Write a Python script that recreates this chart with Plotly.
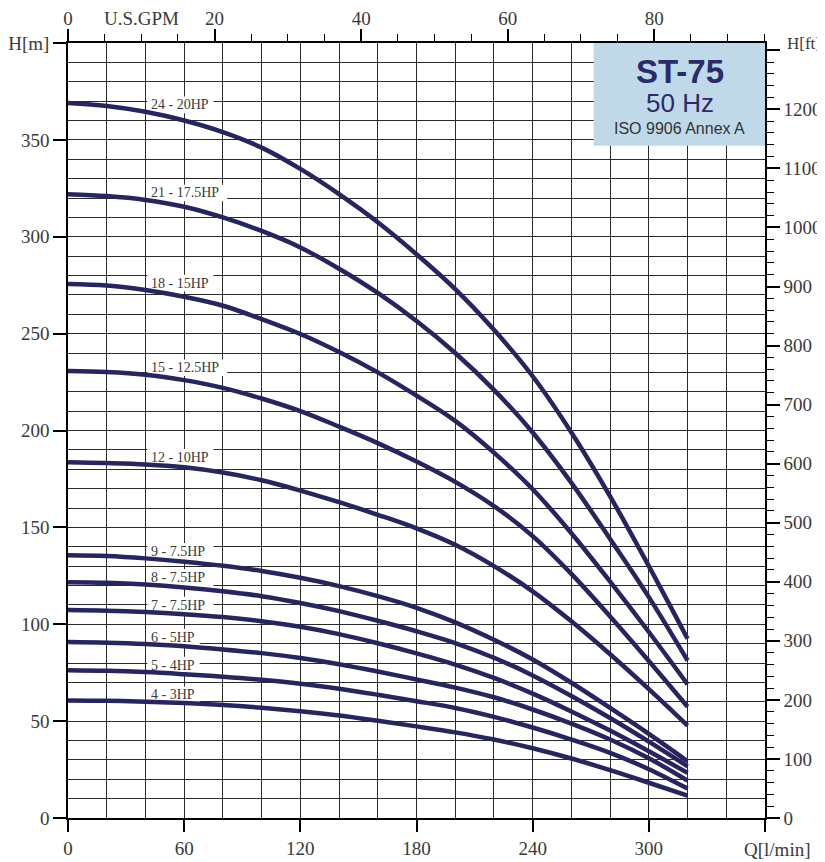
import plotly.graph_objects as go

# flow points [l/min]
flow = [0, 20, 40, 60, 80, 100, 120, 140, 160, 180, 200, 220, 240, 260, 280, 300, 320]

# head [m] per pump model
h_24 = [369, 367.5, 364.5, 360, 354, 346, 335, 322, 307.5, 291, 273, 252, 228, 199, 166, 130, 92.5]
h_21 = [322, 321, 319, 315.5, 310, 303, 294.5, 283.5, 271, 256.5, 240, 221, 199, 173, 144, 114, 81.3]
h_18 = [275.6, 274.8, 272.5, 269, 264.4, 257.5, 249.8, 240.5, 230, 218, 205, 188.6, 169.7, 147, 122, 96, 69]
h_15 = [230.7, 230.2, 228.8, 226, 222, 216.5, 210, 202, 193.5, 184, 173.5, 161, 145.5, 126, 104, 81, 57.4]
h_12 = [183.6, 183.2, 182.5, 181, 178.3, 174.3, 169, 163, 156.5, 149.5, 141, 130, 117, 101.5, 84.5, 66.5, 47.7]
h_9 = [135.6, 135.2, 134, 132.3, 130.2, 127.5, 124, 119.7, 114.5, 108.5, 101, 92, 81.8, 69.8, 56.8, 43.4, 29.3]
h_8 = [121.7, 121.4, 120.5, 119, 117, 114.5, 111, 106.8, 101.8, 96.4, 90.3, 82.7, 73.6, 63, 51.6, 39.4, 26.7]
h_7 = [107.3, 107, 106.3, 105.2, 103.7, 101.6, 98.7, 94.9, 90.2, 85, 79.2, 72.3, 64.2, 55, 45.1, 34.4, 23.3]
h_6 = [90.8, 90.5, 89.8, 88.6, 87, 85.1, 82.6, 79.4, 75.6, 71.5, 67.3, 62.3, 56, 48.7, 40.5, 30.8, 19.3]
h_5 = [76.3, 76, 75.3, 74.2, 72.9, 71.3, 69.3, 66.7, 63.6, 60.3, 56.8, 52.2, 46.7, 40.5, 33.6, 25.2, 15.2]
h_4 = [60.7, 60.5, 60, 59.3, 58.3, 56.9, 55.1, 52.9, 50.2, 47.3, 44.2, 40.5, 36, 30.7, 24.7, 18.2, 11.5]

curve_names = ["24 - 20HP", "21 - 17.5HP", "18 - 15HP", "15 - 12.5HP", "12 - 10HP",
               "9 - 7.5HP", "8 - 7.5HP", "7 - 7.5HP", "6 - 5HP", "5 - 4HP", "4 - 3HP"]
curves = [h_24, h_21, h_18, h_15, h_12, h_9, h_8, h_7, h_6, h_5, h_4]

x_ticks = [0, 60, 120, 180, 240, 300, 360]
x_labels = ["0", "60", "120", "180", "240", "300", ""]
ym_ticks = [0, 50, 100, 150, 200, 250, 300, 350, 400]
ym_labels = ["0", "50", "100", "150", "200", "250", "300", "350", "H[m]"]
gpm_ticks = [0, 20, 40, 60, 80]
ft_ticks = [0, 100, 200, 300, 400, 500, 600, 700, 800, 900, 1000, 1100, 1200, 1300]
ft_labels = ["0", "100", "200", "300", "400", "500", "600", "700", "800", "900", "1000", "1100", "1200", ""]

Q_MAX = 360
H_MAX = 400
LPM_PER_GPM = 3.785
M_PER_FT = 0.3048

NAVY = "#262461"
GRID = "#2a2a2a"
TXT = "#3a3a3a"
SERIF = "Liberation Serif"
SANS = "Liberation Sans"

# page body has an 8px margin, so the figure is 8px smaller than the window
FIG_W, FIG_H = 817, 854
PLOT_W = FIG_W - 60 - 60
PX_PER_LPM = PLOT_W / Q_MAX  # used for label backgrounds

fig = go.Figure()

for name, h in zip(curve_names, curves):
    fig.add_trace(go.Scatter(x=flow, y=h, mode="lines", name=name,
                             line=dict(color=NAVY, width=4.5, shape="spline", smoothing=1.0),
                             showlegend=False))
    # curve label just above the curve near 40 l/min, white patch hides the grid behind it
    ly = h[2] + 3.6
    w = (len(name) * 6.9 + 4) / PX_PER_LPM
    fig.add_shape(type="rect", xref="x", yref="y", x0=41, x1=41 + w, y0=ly - 4.3, y1=ly + 4.3,
                  fillcolor="white", line=dict(width=0), layer="between")
    fig.add_annotation(x=42, y=ly, text=name, xref="x", yref="y",
                       xanchor="left", yanchor="middle", showarrow=False,
                       font=dict(family=SERIF, size=14, color=TXT))

# empty trace so secondary axes get drawn
fig.add_trace(go.Scatter(x=[], y=[], xaxis="x2", yaxis="y2", showlegend=False))

tick_font = dict(family=SERIF, size=19, color=TXT)

fig.update_layout(
    width=FIG_W, height=FIG_H,
    margin=dict(l=60, r=60, t=35, b=44),
    paper_bgcolor="white", plot_bgcolor="white",
    xaxis=dict(range=[0, Q_MAX], tickmode="array", tickvals=x_ticks, ticktext=x_labels,
               showgrid=True, gridcolor=GRID, gridwidth=1, zeroline=False, automargin=False,
               minor=dict(dtick=20, tick0=0, showgrid=True, gridcolor=GRID, gridwidth=1),
               showline=True, linecolor="black", linewidth=1.5,
               ticks="outside", ticklen=12, tickcolor="black", tickwidth=1.5,
               tickfont=tick_font),
    yaxis=dict(range=[0, H_MAX], tickmode="array", tickvals=ym_ticks, ticktext=ym_labels,
               showgrid=True, gridcolor=GRID, gridwidth=1, zeroline=False, automargin=False,
               minor=dict(dtick=10, tick0=0, showgrid=True, gridcolor=GRID, gridwidth=1),
               showline=True, linecolor="black", linewidth=1.5,
               ticks="outside", ticklen=13, tickcolor="black", tickwidth=1.5,
               tickfont=tick_font),
    xaxis2=dict(range=[0, Q_MAX / LPM_PER_GPM], overlaying="x", side="top", anchor="y2",
                tickmode="array", tickvals=gpm_ticks, showgrid=False, zeroline=False,
                automargin=False, ticklabelstandoff=-3,
                minor=dict(tickmode="linear", dtick=5, tick0=0, ticks="outside", ticklen=7,
                           tickcolor="black", tickwidth=1.2, showgrid=False),
                showline=True, linecolor="black", linewidth=1.5,
                ticks="outside", ticklen=12, tickcolor="black", tickwidth=1.5,
                tickfont=tick_font),
    yaxis2=dict(range=[0, H_MAX / M_PER_FT], overlaying="y", side="right", anchor="x2",
                tickmode="array", tickvals=ft_ticks, ticktext=ft_labels,
                showgrid=False, zeroline=False, automargin=False,
                minor=dict(tickmode="linear", dtick=20, tick0=0, ticks="outside", ticklen=7,
                           tickcolor="black", tickwidth=1.2, showgrid=False),
                showline=True, linecolor="black", linewidth=1.5,
                ticks="outside", ticklen=13, tickcolor="black", tickwidth=1.5,
                tickfont=tick_font),
)

# title box top right
fig.add_shape(type="rect", xref="x", yref="y", x0=271.5, x1=Q_MAX, y0=347, y1=H_MAX,
              fillcolor="#c0d9e8", line=dict(width=0), layer="above")
fig.add_annotation(x=316, y=385.5, xref="x", yref="y", text="<b>ST-75</b>", showarrow=False,
                   font=dict(family=SANS, size=33, color="#2b2a6b"))
fig.add_annotation(x=316, y=369, xref="x", yref="y", text="50 Hz", showarrow=False,
                   font=dict(family=SANS, size=26, color="#2b2a6b"))
fig.add_annotation(x=316, y=356, xref="x", yref="y", text="ISO 9906 Annex A", showarrow=False,
                   font=dict(family=SANS, size=16, color="#333333"))

# axis unit labels
fig.add_annotation(x=10, y=1, xref="x2", yref="paper", yanchor="bottom", yshift=12,
                   text="U.S.GPM", showarrow=False, font=tick_font)
fig.add_annotation(x=1, y=1, xref="paper", yref="paper", xanchor="left", yanchor="middle",
                   xshift=20, text="H[ft]", showarrow=False,
                   font=dict(family=SERIF, size=17, color=TXT))
fig.add_annotation(x=Q_MAX, y=0, xref="x", yref="paper", xanchor="center", yanchor="top",
                   xshift=12, yshift=-19, text="Q[l/min]", showarrow=False, font=tick_font)

fig.write_html("out.html")
